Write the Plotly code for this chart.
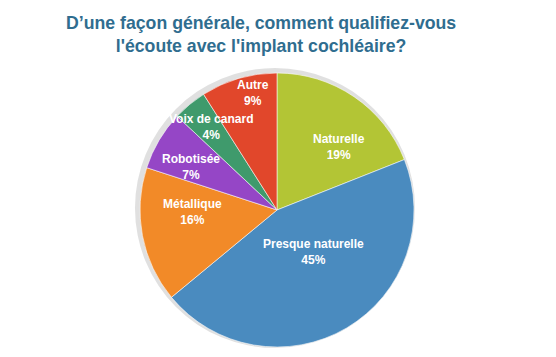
import plotly.graph_objects as go

categories = ["Naturelle", "Presque naturelle", "Métallique", "Robotisée", "Voix de canard", "Autre"]
values = [19, 45, 16, 7, 4, 9]
colors = ["#b3c535", "#4a8bbf", "#f28a28", "#9546c6", "#3f9a6c", "#e1472b"]

title_text = "D’une façon générale, comment qualifiez-vous<br>l'écoute avec l'implant cochléaire?"

W, H = 556, 357
cx, cy, R = 277, 210, 137  # pie centre / radius in pixels (from top-left)

# label placement offsets from the pie centre (pixels), Excel "best fit" look
label_offsets = [(62, -63), (36, 42), (-85, 2), (-86, -43), (-66, -83), (-24, -117)]

fig = go.Figure()
# soft shadow behind the pie, shifted toward the top-left
sx, sy, sR = cx - 2, cy - 2, R + 3
fig.add_trace(go.Pie(
    values=[1], labels=["shadow"], textinfo="none", hoverinfo="skip", sort=False,
    marker=dict(colors=["rgba(0,0,0,0.12)"], line=dict(width=0)),
    domain=dict(x=[(sx - sR) / W, (sx + sR) / W],
                y=[(H - sy - sR) / H, (H - sy + sR) / H]),
    showlegend=False,
))
fig.add_trace(go.Pie(
    labels=categories,
    values=values,
    textinfo="none",
    sort=False,
    direction="clockwise",
    rotation=0,
    marker=dict(colors=colors, line=dict(color="rgba(255,255,255,0.55)", width=1)),
    domain=dict(x=[(cx - R) / W, (cx + R) / W], y=[(H - cy - R) / H, (H - cy + R) / H]),
    showlegend=False,
    hoverinfo="label+percent",
))

for c, v, (dx, dy) in zip(categories, values, label_offsets):
    fig.add_annotation(
        x=(cx + dx) / W, y=(H - cy - dy) / H, xref="paper", yref="paper",
        text=f"{c}<br>{v}%", showarrow=False, xanchor="center", yanchor="middle",
        font=dict(family="Liberation Sans, Arial, sans-serif", size=12, color="white", weight="bold"),
    )

fig.add_annotation(
    x=261 / W, y=1 - 34 / H, xref="paper", yref="paper",
    text=title_text, showarrow=False, xanchor="center", yanchor="middle",
    font=dict(family="Liberation Sans, Arial, sans-serif", size=17.7, color="#2f6d8f", weight="bold"),
)

fig.update_layout(
    width=W, height=H,
    margin=dict(l=0, r=0, t=0, b=0),
    paper_bgcolor="white",
    plot_bgcolor="white",
)

fig.write_html("out.html", config={"displayModeBar": False},
               post_script="document.body.style.margin='0';")
